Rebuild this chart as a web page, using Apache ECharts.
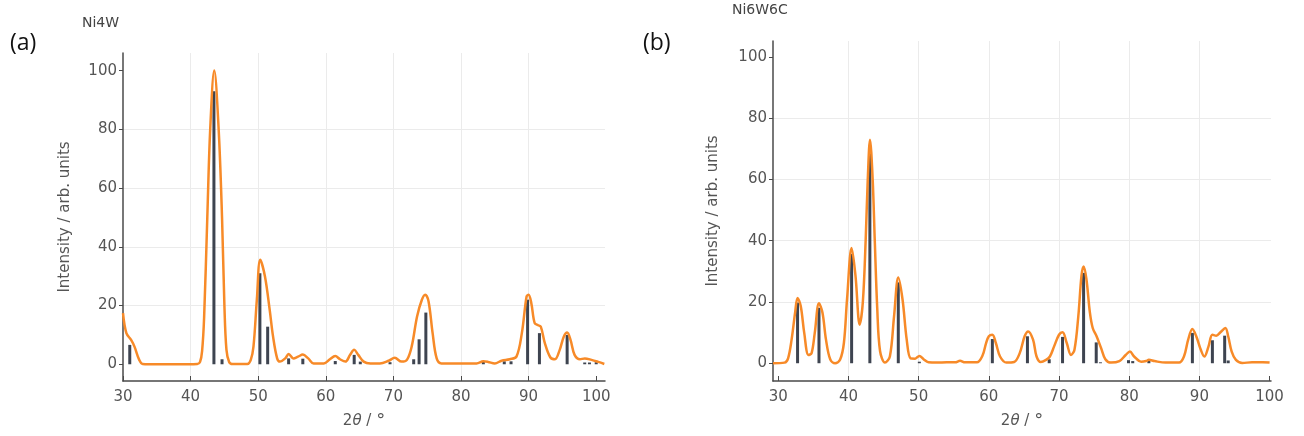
<!DOCTYPE html>
<html>
<head>
<meta charset="utf-8">
<script src="https://cdn.jsdelivr.net/npm/echarts@6/dist/echarts.min.js"></script>
<style>
  html, body { margin: 0; padding: 0; background: #ffffff; }
  #chart { width: 1304px; height: 436px; }
</style>
</head>
<body>
<div id="chart"></div>
<script>
// Simulated XRD profiles (2θ in degrees, intensity in arb. units)
const ni4wProfile = [
  [30.0, 17.4], [30.5, 10.6], [31.2, 8.3], [31.7, 6.0], [32.4, 1.5], [32.9, 0.1],
  [35.0, 0], [38.0, 0], [41.0, 0.1], [41.4, 0.8], [41.7, 4.5], [42.0, 16], [42.47, 50],
  [42.9, 80], [43.5, 100], [44.15, 80], [44.65, 50], [45.0, 20], [45.3, 5], [45.7, 0.8],
  [46.2, 0.1], [48.4, 0.1], [48.9, 1.5], [49.3, 6], [49.8, 22], [50.3, 35.6], [51.0, 29.9],
  [51.7, 18.5], [52.2, 9.4], [52.8, 2.0], [53.2, 0.9], [54.0, 2.0], [54.5, 3.5], [55.2, 2.0],
  [55.9, 2.6], [56.6, 3.3], [57.4, 2.0], [58.2, 0.3], [59.7, 0.3], [60.6, 1.7], [61.4, 2.8],
  [62.1, 1.7], [62.9, 0.9], [63.6, 3.2], [64.2, 4.9], [64.8, 3.2], [65.6, 0.9], [66.6, 0.3],
  [68.0, 0.3], [69.3, 1.2], [70.2, 2.2], [71.2, 0.9], [72.0, 1.5], [72.7, 6], [73.5, 16.3],
  [74.2, 21.9], [74.7, 23.7], [75.2, 21.4], [75.8, 10.6], [76.4, 2.0], [77.1, 0.3],
  [82.3, 0.3], [83.3, 1.0], [84.0, 0.8], [85.0, 0.3], [86.0, 1.2], [87.2, 1.7], [88.2, 2.6],
  [89.0, 10.6], [89.7, 23.1], [90.0, 23.7], [90.4, 20.8], [90.9, 14], [91.4, 13.3],
  [91.8, 12.8], [92.4, 7.2], [93.2, 2.4], [93.9, 1.7], [94.6, 4.9], [95.2, 9.4], [95.7, 10.8],
  [96.2, 8.3], [96.8, 3.2], [97.6, 1.7], [98.3, 2.0], [99.3, 1.5], [100.3, 0.8], [101.2, 0.1]
];
const ni4wPeaks = [
  [31.0, 6.6], [43.45, 93], [44.65, 1.7], [50.25, 31], [51.4, 12.8], [54.5, 2], [56.6, 1.9],
  [61.4, 1.1], [64.2, 3.2], [65.1, 0.9], [69.5, 0.7], [73.0, 1.7], [73.8, 8.5], [74.8, 17.6],
  [83.3, 0.9], [86.4, 1.0], [87.4, 1.0], [89.85, 22], [91.6, 10.6], [95.7, 10],
  [98.3, 0.6], [99.0, 0.6], [100.0, 0.7]
];
const ni6w6cProfile = [
  [29.25, 0], [30.9, 0.2], [31.4, 1.6], [31.9, 7.7], [32.4, 16.5], [32.75, 21.3], [33.2, 18.7],
  [33.7, 9.9], [34.3, 2.7], [34.75, 3.3], [35.2, 9.9], [35.8, 19.6], [36.3, 16.5], [36.8, 7.7],
  [37.4, 1.3], [38.1, 0], [38.8, 1.1], [39.35, 6.6], [39.8, 20.9], [40.45, 37.6], [41.0, 28.6],
  [41.6, 12.6], [42.05, 20], [42.45, 40], [42.75, 60], [43.07, 73], [43.45, 60], [43.75, 40],
  [44.1, 18], [44.5, 4], [45.2, 0.2], [45.9, 2.2], [46.5, 15.4], [47.1, 28], [47.7, 20.9],
  [48.3, 7.7], [48.85, 1.6], [49.5, 1.5], [50.1, 2.4], [50.7, 1.3], [51.4, 0.3], [52.6, 0.2],
  [54.0, 0.3], [55.2, 0.3], [55.9, 0.8], [56.6, 0.3], [58.3, 0.3], [59.1, 2.5], [59.6, 6.5],
  [60.0, 8.8], [60.5, 9.3], [61.0, 6.6], [61.6, 2.2], [62.5, 0.2], [63.6, 0.4], [64.4, 3.3],
  [65.1, 8.8], [65.6, 10.4], [66.3, 7.7], [66.8, 2.2], [67.4, 0.4], [68.15, 1.1], [68.7, 2.2],
  [69.3, 5.5], [70.0, 9.3], [70.5, 10.1], [71.1, 6.6], [71.7, 2.7], [72.2, 4.4], [72.75, 15.4],
  [73.2, 28.6], [73.5, 31.6], [73.9, 27.5], [74.4, 16.5], [74.8, 11.5], [75.35, 8.8],
  [76.0, 4.9], [76.6, 1.3], [77.4, 0.2], [78.6, 0.7], [79.5, 2.7], [80.1, 3.8], [80.7, 2.2],
  [81.7, 0.5], [82.4, 0.7], [82.8, 1.1], [83.6, 0.7], [85.2, 0.2], [87.1, 0.2], [87.8, 2.2],
  [88.4, 7.7], [89.0, 11.2], [89.55, 8.8], [90.2, 4.4], [90.7, 2.2], [91.3, 5.5], [91.85, 9.3],
  [92.4, 9.0], [93.0, 10.1], [93.7, 11.5], [94.1, 8.8], [94.6, 3.8], [95.2, 1.1], [96.1, 0.1],
  [97.5, 0.3], [99.0, 0.3], [100.0, 0.2]
];
const ni6w6cPeaks = [
  [32.75, 19.8], [35.8, 18.1], [40.45, 35.7], [43.05, 69], [47.1, 26.4], [50.1, 0.5],
  [60.5, 7.9], [65.5, 8.8], [68.6, 1.3], [70.5, 8.6], [73.5, 29.5], [75.3, 6.8], [75.9, 0.3],
  [79.9, 1.0], [80.5, 0.7], [82.8, 0.9], [89.0, 9.9], [91.85, 7.5], [93.6, 9.0], [94.1, 0.9]
];

const angleTicks = [30, 40, 50, 60, 70, 80, 90, 100];
const intensityTicks = [0, 20, 40, 60, 80, 100];

const FONT = 'DejaVu Sans';
const AXIS_COLOR = '#4a4a4a';
const LABEL_COLOR = '#555555';
const GRID_COLOR = '#ebebeb';
const PROFILE_COLOR = '#f78a28';
const STICK_COLOR = '#3e4450';

function angleAxis(gridIndex, min, max) {
  return {
    type: 'value', gridIndex, min, max,
    name: '{n|2}{i|θ}{n| / }{d|°}',
    nameLocation: 'middle',
    nameGap: 31,
    nameTextStyle: {
      rich: {
        n: { fontFamily: FONT, fontSize: 15, color: LABEL_COLOR },
        i: { fontFamily: FONT, fontSize: 15, fontStyle: 'italic', color: LABEL_COLOR },
        d: { fontFamily: FONT, fontSize: 18, color: LABEL_COLOR }
      }
    },
    axisLine: { show: true, onZero: false, lineStyle: { color: AXIS_COLOR, width: 1.5 } },
    axisTick: { show: true, inside: true, length: 5, customValues: angleTicks,
      lineStyle: { color: AXIS_COLOR, width: 1 } },
    axisLabel: { show: true, customValues: angleTicks, margin: 9, color: LABEL_COLOR,
      fontFamily: FONT, fontSize: 15,
      formatter: v => angleTicks.includes(v) ? String(v) : '' },
    splitLine: { show: true, showMinLine: false, showMaxLine: false,
      lineStyle: { color: GRID_COLOR, width: 1 } }
  };
}

function intensityAxis(gridIndex, min, max, gap) {
  return {
    type: 'value', gridIndex, min, max,
    name: 'Intensity / arb. units',
    nameLocation: 'middle',
    nameGap: gap,
    nameTextStyle: { fontFamily: FONT, fontSize: 15, color: LABEL_COLOR },
    axisLine: { show: true, onZero: false, lineStyle: { color: AXIS_COLOR, width: 1.5 } },
    axisTick: { show: true, inside: false, length: 4, customValues: intensityTicks,
      lineStyle: { color: AXIS_COLOR, width: 1 } },
    axisLabel: { show: true, customValues: intensityTicks, margin: 6, color: LABEL_COLOR,
      fontFamily: FONT, fontSize: 15,
      formatter: v => intensityTicks.includes(v) ? String(v) : '' },
    splitLine: { show: true, showMinLine: false, showMaxLine: false,
      lineStyle: { color: GRID_COLOR, width: 1 } }
  };
}

// Reflection positions drawn as vertical sticks from zero intensity
function stickItem(params, api) {
  const x = api.value(0);
  const top = api.coord([x, api.value(1)]);
  const base = api.coord([x, 0]);
  return {
    type: 'line',
    shape: { x1: base[0], y1: base[1], x2: top[0], y2: top[1] },
    style: { stroke: STICK_COLOR, lineWidth: 3 }
  };
}

function stickSeries(axisIndex, data) {
  return {
    type: 'custom', xAxisIndex: axisIndex, yAxisIndex: axisIndex,
    data, encode: { x: 0, y: 1 }, renderItem: stickItem, z: 2, silent: true
  };
}

function profileSeries(axisIndex, data) {
  return {
    type: 'line', xAxisIndex: axisIndex, yAxisIndex: axisIndex, data,
    smooth: 0.35, showSymbol: false, symbol: 'none', z: 3, silent: true,
    lineStyle: { color: PROFILE_COLOR, width: 2.5 }
  };
}

const titleText = { fontFamily: FONT, fontSize: 14, fontWeight: 'normal', color: '#444' };
const panelText = { fontFamily: 'Open Sans', fontSize: 23, fontWeight: 'normal', color: '#111' };

const chart = echarts.init(document.getElementById('chart'), null, { renderer: 'canvas' });
chart.setOption({
  backgroundColor: '#ffffff',
  animation: false,
  title: [
    { text: 'Ni4W', left: 82, top: 16, padding: 0, textStyle: titleText },
    { text: '(a)', left: 10, top: 32, padding: 0, textStyle: panelText },
    { text: 'Ni6W6C', left: 732, top: 3, padding: 0, textStyle: titleText },
    { text: '(b)', left: 643, top: 32, padding: 0, textStyle: panelText }
  ],
  grid: [
    { left: 123, right: 699, top: 53, bottom: 55, containLabel: false, outerBoundsMode: 'none' },
    { left: 773, right: 33, top: 41, bottom: 55, containLabel: false, outerBoundsMode: 'none' }
  ],
  xAxis: [angleAxis(0, 30, 101.3), angleAxis(1, 29.25, 100.2)],
  yAxis: [intensityAxis(0, -5.7, 106, 50), intensityAxis(1, -5.8, 105.2, 52)],
  series: [
    stickSeries(0, ni4wPeaks),
    profileSeries(0, ni4wProfile),
    stickSeries(1, ni6w6cPeaks),
    profileSeries(1, ni6w6cProfile)
  ]
});
</script>
</body>
</html>
